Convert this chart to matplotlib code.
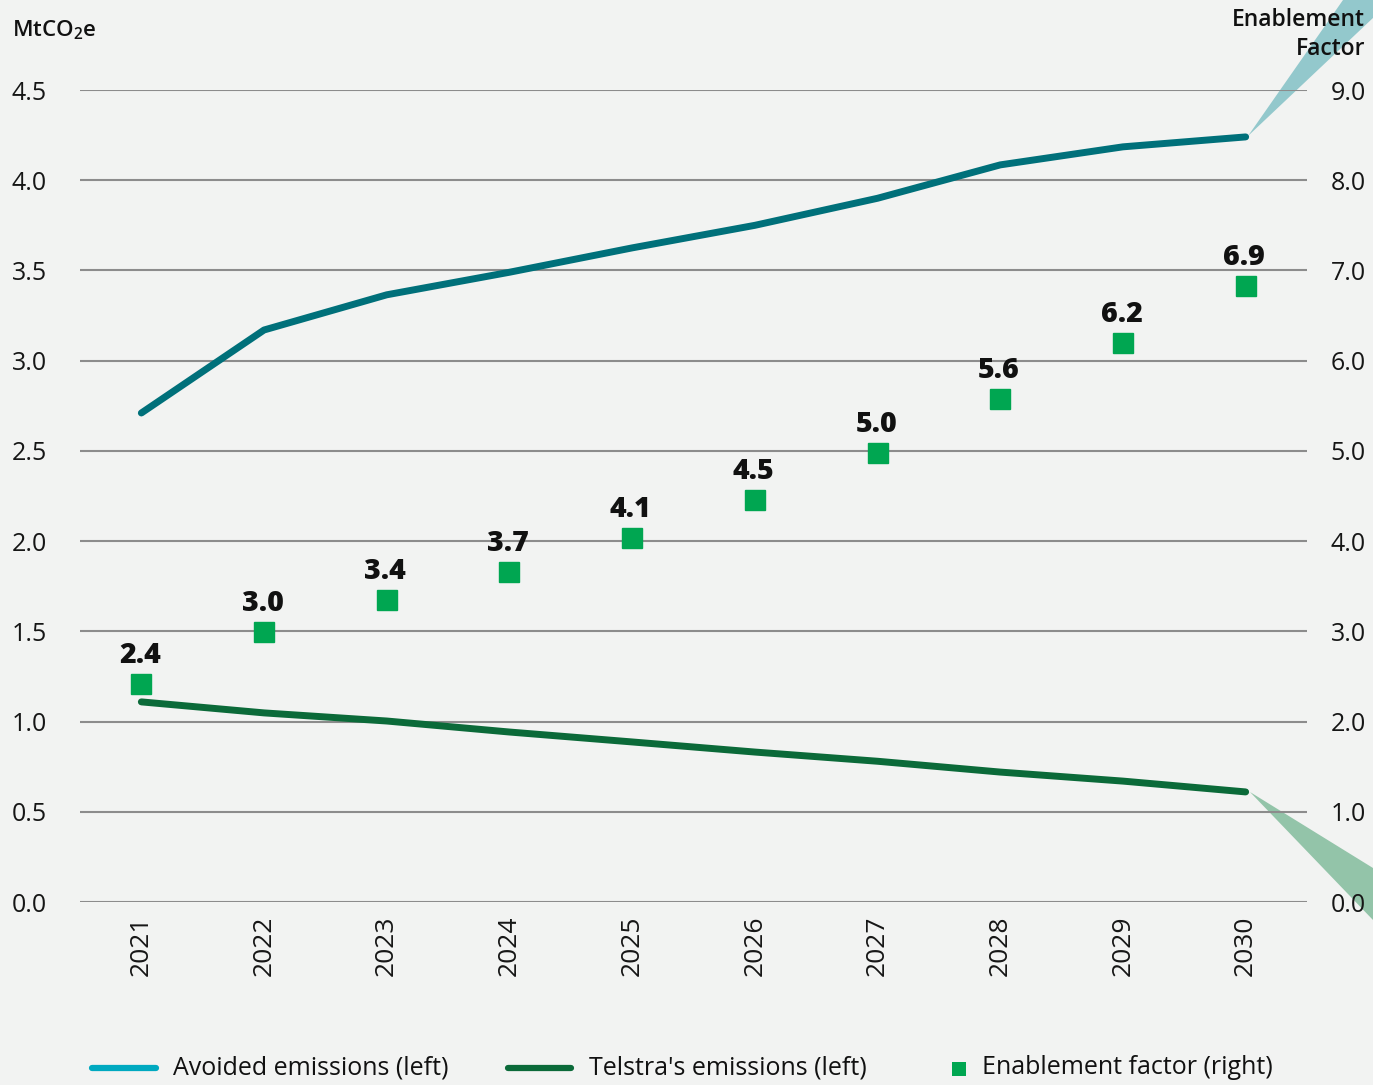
import matplotlib
matplotlib.use("Agg")
import matplotlib.pyplot as plt
from matplotlib.lines import Line2D
from matplotlib.patches import Polygon, Rectangle

plt.rcParams['font.family'] = ['Open Sans', 'DejaVu Sans']
plt.rcParams['mathtext.fontset'] = 'custom'
plt.rcParams['mathtext.rm'] = 'Open Sans:semibold'

years = [2021, 2022, 2023, 2024, 2025, 2026, 2027, 2028, 2029, 2030]
avoided = [2.71, 3.17, 3.365, 3.49, 3.625, 3.75, 3.90, 4.085, 4.185, 4.24]
telstra = [1.109, 1.048, 1.003, 0.942, 0.887, 0.831, 0.78, 0.72, 0.67, 0.61]
enablement = [2.42, 2.99, 3.35, 3.66, 4.04, 4.46, 4.98, 5.58, 6.20, 6.83]
enablement_labels = ["2.4", "3.0", "3.4", "3.7", "4.1", "4.5", "5.0", "5.6", "6.2", "6.9"]
left_ticks = [0.0, 0.5, 1.0, 1.5, 2.0, 2.5, 3.0, 3.5, 4.0, 4.5]
right_ticks = [0.0, 1.0, 2.0, 3.0, 4.0, 5.0, 6.0, 7.0, 8.0, 9.0]

BG = '#f2f3f2'
TEAL = '#00707a'
TEAL_LEG = '#00a9c0'
DGREEN = '#0b6a39'
MGREEN = '#00a651'
GRID = '#8c8c8c'
TXT = '#161616'

W, H = 1373, 1085
fig = plt.figure(figsize=(W/100, H/100), dpi=100, facecolor=BG)

def fx(px): return px / W
def fy(py): return 1 - py / H

ax = fig.add_axes([fx(80), fy(902), fx(1307) - fx(80), fy(90) - fy(902)])
ax.patch.set_visible(False)
ax2 = ax.twinx()
ax2.patch.set_visible(False)

ax.set_xlim(2020.5, 2030.5)
ax.set_ylim(0, 4.5)
ax2.set_ylim(0, 9)

for a in (ax, ax2):
    for s in a.spines.values():
        s.set_visible(False)
    a.tick_params(length=0)

ax.set_yticks(left_ticks)
ax.set_yticklabels([f"{v:.1f}" for v in left_ticks], fontsize=18, color=TXT)
for lab in ax.get_yticklabels():
    lab.set_horizontalalignment('left')
ax.tick_params(axis='y', pad=49)

ax2.set_yticks(right_ticks)
ax2.set_yticklabels([f"{v:.1f}" for v in right_ticks], fontsize=18, color=TXT)
ax2.tick_params(axis='y', pad=17)

ax.set_xticks(years)
ax.set_xticklabels([str(y) for y in years], rotation=90, fontsize=19, color=TXT)
ax.tick_params(axis='x', pad=10)

for v in left_ticks:
    ax.axhline(v, color=GRID, lw=1.5, zorder=1)

ax.plot(years, avoided, color=TEAL, lw=5, solid_capstyle='round', zorder=3)
ax.plot(years, telstra, color=DGREEN, lw=5, solid_capstyle='round', zorder=3)
ax2.plot(years, enablement, ls='none', marker='s', ms=14.5, color=MGREEN, zorder=4)
for x, v, t in zip(years, enablement, enablement_labels):
    ax2.annotate(t, (x, v), xytext=(-1, 15), textcoords='offset points',
                 ha='center', va='baseline', fontsize=20.5, fontweight='heavy', color='#111111')

# wedges (behind axes content)
top = Polygon([(fx(1248), fy(136)), (fx(1343), fy(0)), (fx(1392), fy(0))],
              closed=True, transform=fig.transFigure, facecolor='#93c8cc', edgecolor='none', zorder=-1)
bot = Polygon([(fx(1250), fy(792)), (fx(1373), fy(868)), (fx(1373), fy(920))],
              closed=True, transform=fig.transFigure, facecolor='#93c4a9', edgecolor='none', zorder=-1)
fig.add_artist(top)
fig.add_artist(bot)

# labels
fig.text(fx(12), fy(30), r"MtCO$_\mathrm{2}$e", fontsize=16, fontweight='semibold',
         ha='left', va='center', color='#111111')
fig.text(fx(1365), fy(20), "Enablement", fontsize=16.5, fontweight='semibold', ha='right', va='center', color='#111111')
fig.text(fx(1365), fy(49), "Factor", fontsize=16.5, fontweight='semibold', ha='right', va='center', color='#111111')

# legend
ly = fy(1068)
fig.add_artist(Line2D([fx(92), fx(156)], [ly, ly], transform=fig.transFigure, color=TEAL_LEG, lw=4.5, solid_capstyle='round'))
fig.text(fx(173), ly, "Avoided emissions (left)", fontsize=18, ha='left', va='center', color='#111111')
fig.add_artist(Line2D([fx(508), fx(571)], [ly, ly], transform=fig.transFigure, color=DGREEN, lw=4.5, solid_capstyle='round'))
fig.text(fx(589), ly, "Telstra's emissions (left)", fontsize=18, ha='left', va='center', color='#111111')
fig.add_artist(Rectangle((fx(952), fy(1076)), fx(14), fy(1062) - fy(1076), transform=fig.transFigure,
                         facecolor=MGREEN, edgecolor='none'))
fig.text(fx(982), ly, "Enablement factor (right)", fontsize=18, ha='left', va='center', color='#111111')

fig.savefig("out.png", dpi=100, facecolor=BG)
